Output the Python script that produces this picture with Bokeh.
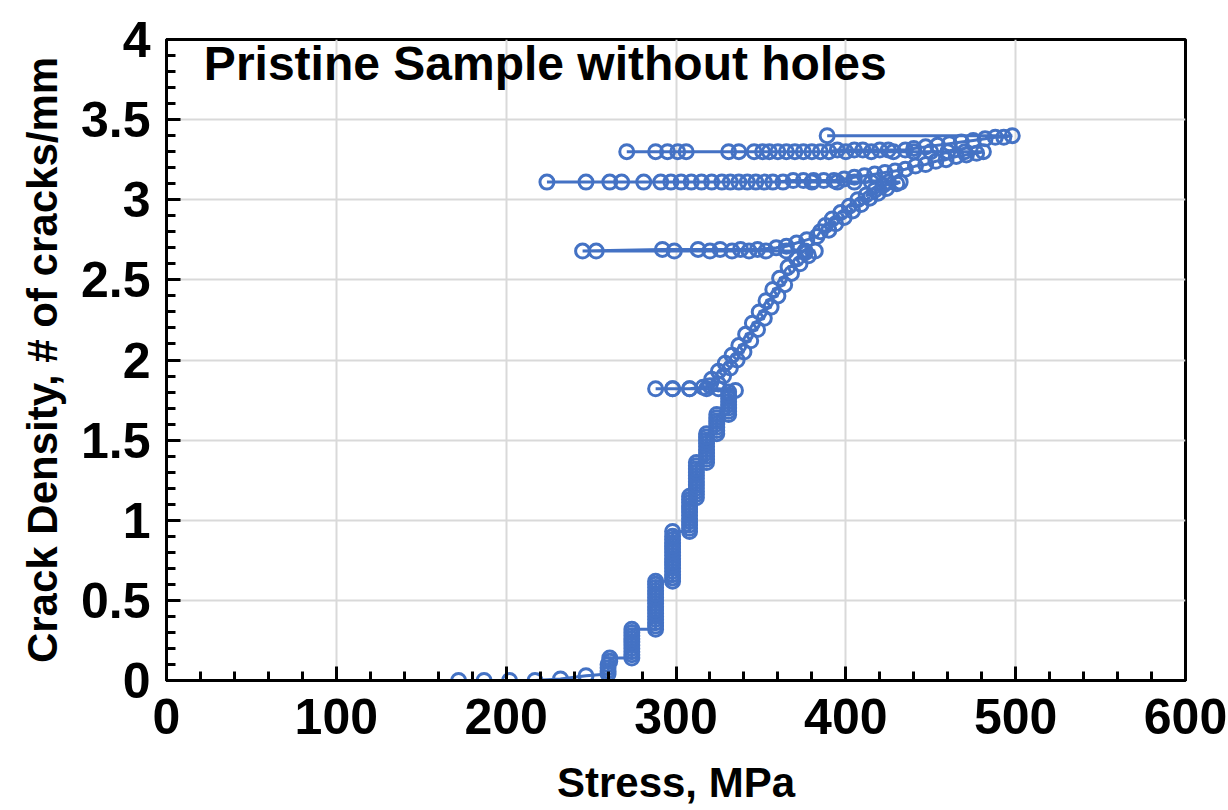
from bokeh.plotting import figure
from bokeh.models import Range1d, SingleIntervalTicker, Label, ColumnDataSource
from bokeh.embed import file_html
from bokeh.resources import INLINE

# ---- data (stress in MPa, crack density in cracks/mm) ----
# stage 1: initial loading
s1_stress = [172, 187, 202, 217, 232, 247,
             260, 260, 260, 260, 261, 261,
             274, 274, 274, 274, 274, 274, 274, 274, 274, 274,
             288, 288, 288, 288, 288, 288, 288, 288, 288, 288, 288, 288, 288, 288, 288, 288,
             298, 298, 298, 298, 298, 298, 298, 298, 298, 298, 298, 298, 298, 298, 298, 298,
             308, 308, 308, 308, 308, 308, 308, 308, 308, 308, 308, 308,
             312, 312, 312, 312, 312, 312, 312, 312, 312, 312, 312, 312,
             318, 318, 318, 318, 318, 318, 318, 318, 318, 318,
             324, 324, 324, 324, 324, 324, 324,
             331, 331, 331, 331, 331, 331, 331, 331,
             335]
s1_density = [0.00, 0.00, 0.00, 0.00, 0.01, 0.03,
              0.04, 0.06, 0.08, 0.10, 0.12, 0.14,
              0.14, 0.16, 0.18, 0.20, 0.22, 0.24, 0.26, 0.28, 0.30, 0.32,
              0.32, 0.34, 0.36, 0.38, 0.40, 0.42, 0.44, 0.46, 0.48, 0.50, 0.52, 0.54, 0.56, 0.58, 0.60, 0.62,
              0.62, 0.64, 0.66, 0.68, 0.70, 0.72, 0.74, 0.76, 0.78, 0.80, 0.82, 0.84, 0.86, 0.88, 0.90, 0.93,
              0.93, 0.95, 0.97, 0.99, 1.01, 1.03, 1.05, 1.07, 1.09, 1.11, 1.13, 1.15,
              1.14, 1.16, 1.18, 1.20, 1.22, 1.24, 1.26, 1.28, 1.30, 1.32, 1.34, 1.36,
              1.36, 1.38, 1.40, 1.42, 1.44, 1.46, 1.48, 1.50, 1.52, 1.54,
              1.54, 1.56, 1.58, 1.60, 1.62, 1.64, 1.66,
              1.66, 1.68, 1.70, 1.72, 1.74, 1.76, 1.78, 1.80,
              1.81]
# stage 2: unloading at 1.82
s2_stress = [325, 318, 308, 298, 288]
s2_density = [1.82, 1.82, 1.82, 1.82, 1.82]
# stage 3: reloading, loading to 2.68
s3_stress = [298, 308, 316, 320, 325, 321, 328, 325, 332, 329, 336, 333, 340, 337, 344, 341, 348,
             345, 352, 349, 356, 353, 360, 357, 364, 361, 368, 366, 373, 371, 378, 376, 382]
s3_density = [1.82, 1.82, 1.83, 1.84, 1.85, 1.88, 1.90, 1.93, 1.95, 1.98, 2.00, 2.03, 2.05, 2.09, 2.12, 2.16, 2.19,
              2.23, 2.26, 2.30, 2.33, 2.37, 2.40, 2.44, 2.47, 2.51, 2.54, 2.58, 2.60, 2.63, 2.65, 2.67, 2.68]
# stage 4: unloading at 2.68
s4_stress = [376, 365, 353, 343, 333, 320, 299, 253, 245]
s4_density = [2.68, 2.68, 2.68, 2.68, 2.68, 2.68, 2.68, 2.68, 2.68]
# stage 5: reloading, loading to 3.11
s5_stress = [292, 313, 326, 338, 348, 359, 365, 371, 377, 383, 385, 390, 388, 394, 392,
             399, 397, 404, 402, 409, 407, 414, 412, 419, 417, 424, 422, 430, 432]
s5_density = [2.69, 2.69, 2.69, 2.69, 2.69, 2.70, 2.71, 2.73, 2.75, 2.77, 2.80, 2.81, 2.84, 2.85, 2.88,
              2.89, 2.92, 2.93, 2.96, 2.97, 3.00, 3.01, 3.03, 3.04, 3.06, 3.07, 3.09, 3.10, 3.11]
# stage 6: unloading at 3.11
s6_stress = [425, 415, 405, 395, 380, 363, 347, 332, 315, 297, 281, 261, 247, 224]
s6_density = [3.11, 3.11, 3.11, 3.11, 3.11, 3.11, 3.11, 3.11, 3.11, 3.11, 3.11, 3.11, 3.11, 3.11]
# stage 7: reloading, loading to 3.30
s7_stress = [268, 291, 303, 309, 321, 327, 337, 342, 352, 357, 369, 375, 381, 387, 393,
             399, 405, 411, 417, 423, 429, 435, 441, 447, 453, 459, 465, 471, 477, 481]
s7_density = [3.11, 3.11, 3.11, 3.11, 3.11, 3.11, 3.11, 3.11, 3.11, 3.11, 3.12, 3.12, 3.12, 3.12, 3.12,
              3.13, 3.14, 3.15, 3.16, 3.17, 3.18, 3.19, 3.21, 3.22, 3.24, 3.25, 3.27, 3.28, 3.29, 3.30]
# stage 8: unloading at 3.30
s8_stress = [470, 460, 450, 440, 428, 415, 400, 385, 370, 355, 337, 306, 288, 271]
s8_density = [3.30, 3.30, 3.30, 3.30, 3.30, 3.30, 3.30, 3.30, 3.30, 3.30, 3.30, 3.30, 3.30, 3.30]
# stage 9: reloading, loading to 3.40
s9_stress = [295, 301, 331, 346, 351, 360, 365, 375, 380, 390, 395, 405, 410, 420, 425,
             435, 440, 447, 454, 461, 468, 475, 482, 488, 493, 498]
s9_density = [3.30, 3.30, 3.30, 3.30, 3.30, 3.30, 3.30, 3.30, 3.30, 3.30, 3.31, 3.31, 3.31, 3.31, 3.31,
              3.31, 3.32, 3.33, 3.34, 3.35, 3.36, 3.37, 3.38, 3.39, 3.39, 3.40]
# stage 10: final unloading
s10_stress = [389]
s10_density = [3.40]

title_text = "Pristine Sample without holes"
x_title = "Stress, MPa"
y_title = "Crack Density, # of cracks/mm"

stages = [(s1_stress, s1_density), (s2_stress, s2_density), (s3_stress, s3_density),
          (s4_stress, s4_density), (s5_stress, s5_density), (s6_stress, s6_density),
          (s7_stress, s7_density), (s8_stress, s8_density), (s9_stress, s9_density),
          (s10_stress, s10_density)]
stress, density = [], []
for sx, sy in stages:
    assert len(sx) == len(sy)
    stress += sx
    density += sy

src = ColumnDataSource(dict(x=stress, y=density))

FONT = "Liberation Sans"
BLUE = "#4472C4"

p = figure(width=1228, height=810, output_backend="svg", toolbar_location=None,
           x_range=Range1d(0, 600), y_range=Range1d(0, 4),
           min_border_left=166, min_border_right=43, min_border_top=39, min_border_bottom=130)
p.background_fill_color = "white"
p.border_fill_color = "white"
p.outline_line_color = "black"
p.outline_line_width = 3

p.xaxis.ticker = SingleIntervalTicker(interval=100, num_minor_ticks=5)
p.yaxis.ticker = SingleIntervalTicker(interval=0.5, num_minor_ticks=5)

for ax in (p.xaxis[0], p.yaxis[0]):
    ax.axis_line_width = 3
    ax.axis_line_color = "black"
    ax.major_tick_in = 14
    ax.major_tick_out = 0
    ax.minor_tick_in = 9
    ax.minor_tick_out = 0
    ax.major_tick_line_width = 3
    ax.minor_tick_line_width = 3
    ax.major_tick_line_color = "black"
    ax.minor_tick_line_color = "black"
    ax.major_label_text_font = FONT
    ax.major_label_text_font_style = "bold"
    ax.major_label_text_font_size = "50px"
    ax.major_label_text_color = "black"
    ax.axis_label_text_font = FONT
    ax.axis_label_text_font_style = "bold"
    ax.axis_label_text_font_size = "42px"
    ax.axis_label_text_color = "black"

p.xaxis.axis_label = x_title
p.yaxis.axis_label = y_title
p.xaxis.major_label_standoff = 18
p.yaxis.major_label_standoff = 16
p.xaxis.axis_label_standoff = 22
p.yaxis.axis_label_standoff = 12

p.xgrid.grid_line_color = "#d9d9d9"
p.ygrid.grid_line_color = "#d9d9d9"
p.xgrid.grid_line_width = 2
p.ygrid.grid_line_width = 2

p.line("x", "y", source=src, line_color=BLUE, line_width=3)
p.scatter("x", "y", source=src, marker="circle", size=14, fill_color=None,
          line_color=BLUE, line_width=3)

p.add_layout(Label(x=22, y=3.85, text=title_text, text_font=FONT, text_font_style="bold",
                   text_font_size="48px", text_color="black", text_baseline="alphabetic"))

open("out.html", "w").write(file_html(p, INLINE))
